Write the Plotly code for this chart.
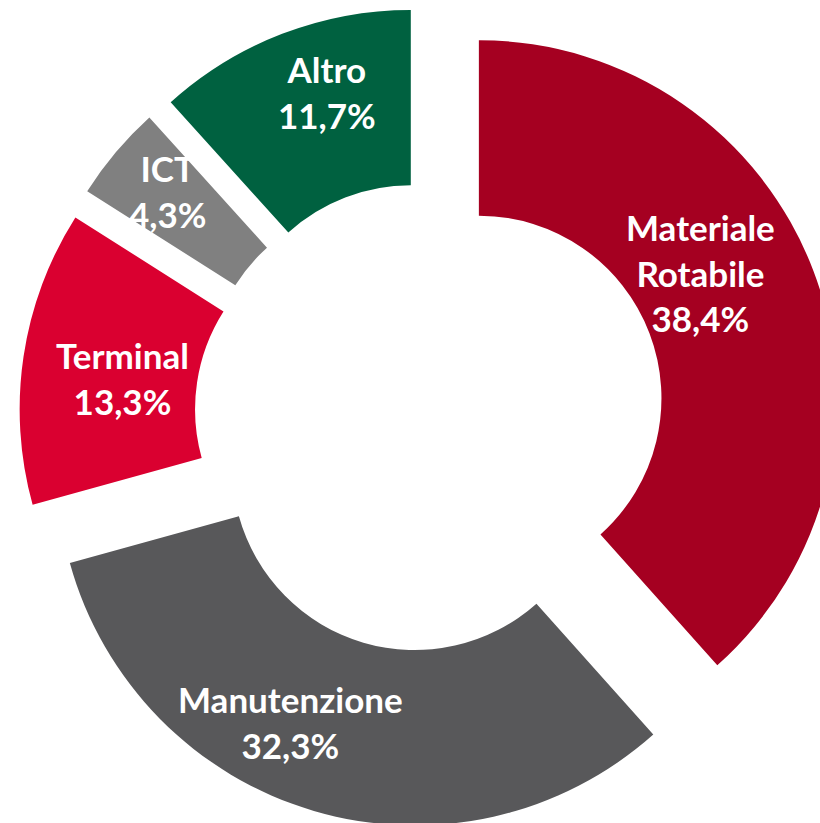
import math
import plotly.graph_objects as go

# ---- data ----
categories = ["Materiale Rotabile", "Manutenzione", "Terminal", "ICT", "Altro"]
shares = [38.4, 32.3, 13.3, 4.3, 11.7]
label_lines = ["Materiale<br>Rotabile", "Manutenzione", "Terminal", "ICT", "Altro"]

# ---- style ----
colors = ["#A50021", "#58585A", "#DA0030", "#808080", "#006140"]
W, H = 850, 832            # figure larger than the window; the overflow is hidden
CX, CY = 429.7, 417.0      # pie centre in pixels
R = 358.0                  # outer radius in pixels
HOLE = 0.51
PULL = 0.147
FONT = dict(family="Lato", size=35, color="white", weight="bold")
# small pixel nudges of label anchors away from the computed ring midpoint
label_nudge = [(-31, -29), (-48, -5), (12, 9), (-15, -18), (13, -24)]

box = 2 * R * (1 + PULL)
dom_x = [(CX - box / 2) / W, (CX + box / 2) / W]
dom_y = [1 - (CY + box / 2) / H, 1 - (CY - box / 2) / H]

fig = go.Figure(go.Pie(
    labels=categories,
    values=shares,
    hole=HOLE,
    pull=[PULL] * len(shares),
    sort=False,
    direction="clockwise",
    rotation=0,
    marker=dict(colors=colors, line=dict(width=0)),
    textinfo="none",
    hoverinfo="skip",
    showlegend=False,
    domain=dict(x=dom_x, y=dom_y),
))

total = sum(shares)
cum = 0.0
annotations = []
for i, v in enumerate(shares):
    mid = (cum + v / 2) / total * 2 * math.pi
    cum += v
    rr = PULL * R + R * (1 + HOLE) / 2
    px = CX + rr * math.sin(mid) + label_nudge[i][0]
    py = CY - rr * math.cos(mid) + label_nudge[i][1]
    txt = f"{label_lines[i]}<br>{v:.1f}%".replace(".", ",")
    annotations.append(dict(
        x=px / W, y=1 - py / H, xref="paper", yref="paper",
        text=txt, showarrow=False, font=FONT,
        xanchor="center", yanchor="middle", align="center",
    ))

fig.update_layout(
    width=W, height=H,
    margin=dict(l=0, r=0, t=0, b=0),
    paper_bgcolor="white", plot_bgcolor="white",
    annotations=annotations,
)

fig.write_html(
    "out.html",
    post_script="document.body.style.margin='0';document.body.style.overflow='hidden';document.documentElement.style.overflow='hidden';",
)
